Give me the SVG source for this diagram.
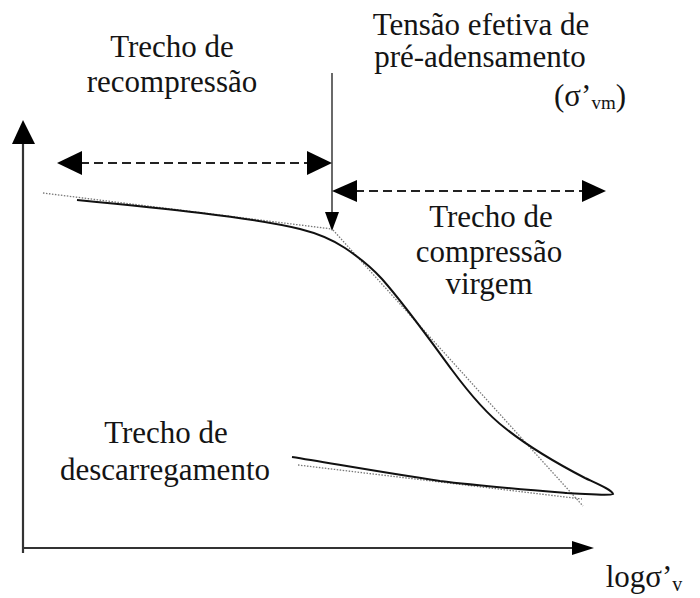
<svg xmlns="http://www.w3.org/2000/svg" width="700" height="598" viewBox="0 0 700 598">
<defs>
<style>
.lbl{font-size:31px;fill:#141414;text-anchor:middle}
.axis{stroke:#333;stroke-width:2.2;fill:none}
.dash{stroke:#222;stroke-width:2;stroke-dasharray:9 5;fill:none}
.curve{stroke:#111;stroke-width:2;fill:none}
.dot{stroke:#777;stroke-width:1.3;stroke-dasharray:1.5 1.5;fill:none}
.head{fill:#000}
</style>
</defs>
<rect width="700" height="598" fill="#fff"/>
<g id="axes">
<line class="axis" x1="23" y1="553" x2="23" y2="140"/>
<polygon class="head" points="23,120 12,144 35,144"/>
<line class="axis" x1="22" y1="548" x2="574" y2="548"/>
<polygon class="head" points="594,548 572,541 572,555"/>
</g>
<g id="connectors">
<line x1="332" y1="73" x2="332" y2="214" stroke="#444" stroke-width="1.6"/>
<polygon class="head" points="332,231 325,212 339,212"/>
<line class="dash" x1="80" y1="163" x2="310" y2="163"/>
<polygon class="head" points="57,163 82,151 82,175"/>
<polygon class="head" points="332,163 307,151 307,175"/>
<line class="dash" x1="355" y1="191" x2="585" y2="191"/>
<polygon class="head" points="332,191 357,180 357,202"/>
<polygon class="head" points="606,191 582,180 582,202"/>
</g>
<g id="curves">
<path class="dot" d="M43,193 L332,229"/>
<path class="dot" d="M333,230 L583,506"/>
<path class="dot" d="M298,465 L582,499"/>
<path class="curve" d="M77,200 C160,208 250,217 300,229 C320,234 333,240 345,248 C360,258 372,268 382,279 C405,305 430,340 452,370 C472,397 488,415 505,428 C530,448 560,465 585,478 C600,485 612,490 613,494 C610,496 590,494 567,493 C530,490 480,486 440,481 C380,472 330,463 292,457"/>
</g>
<g id="labels" font-family="Liberation Serif, DejaVu Serif, serif">
<g id="label-recompressao">
<text class="lbl" x="172" y="57">Trecho de</text>
<text class="lbl" x="172" y="92">recompressão</text>
</g>
<g id="label-preadensamento">
<text class="lbl" x="481" y="35">Tensão efetiva de</text>
<text class="lbl" x="480" y="67">pré-adensamento</text>
<text class="lbl" x="590" y="106">(σ’<tspan font-size="19" dy="3">vm</tspan><tspan dy="-3">)</tspan></text>
</g>
<g id="label-virgem">
<text class="lbl" x="491" y="227" font-size="30">Trecho de</text>
<text class="lbl" x="489" y="262" font-size="30">compressão</text>
<text class="lbl" x="489" y="294" font-size="30">virgem</text>
</g>
<g id="label-descarregamento">
<text class="lbl" x="166" y="443">Trecho de</text>
<text class="lbl" x="165" y="480">descarregamento</text>
</g>
<g id="label-axis">
<text class="lbl" x="644" y="587" font-size="34">logσ’<tspan font-size="20" dy="4">v</tspan></text>
</g>
</g>
</svg>
